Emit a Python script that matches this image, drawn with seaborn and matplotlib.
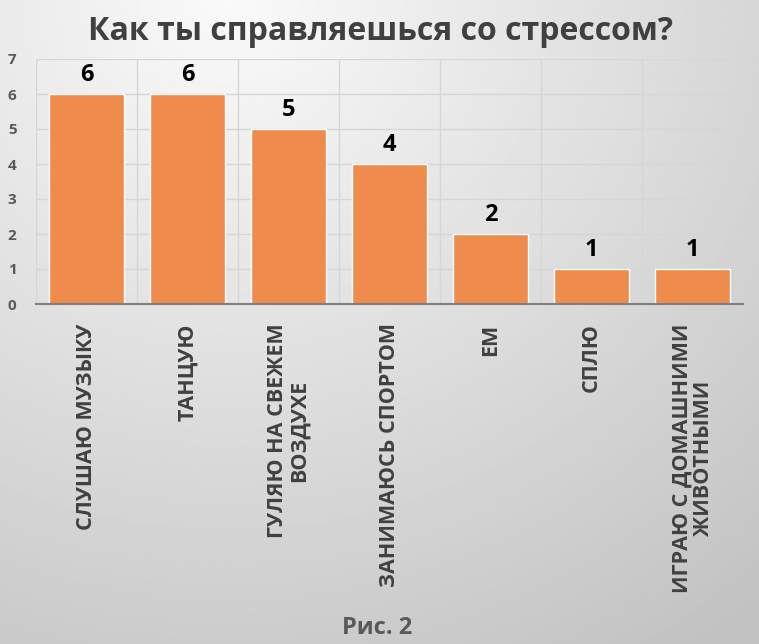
import numpy as np
import pandas as pd
import matplotlib
matplotlib.use('Agg')
import matplotlib.pyplot as plt
import seaborn as sns

# Data
categories = ['СЛУШАЮ МУЗЫКУ', 'ТАНЦУЮ', 'ГУЛЯЮ НА СВЕЖЕМ\nВОЗДУХЕ', 'ЗАНИМАЮСЬ СПОРТОМ',
              'ЕМ', 'СПЛЮ', 'ИГРАЮ С ДОМАШНИМИ\nЖИВОТНЫМИ']
counts = [6, 6, 5, 4, 2, 1, 1]
y_ticks = [0, 1, 2, 3, 4, 5, 6, 7]

title = 'Как ты справляешься со стрессом?'
caption = 'Рис. 2'

sns.set_style('white')
plt.rcParams['font.family'] = ['Open Sans', 'DejaVu Sans']

fig = plt.figure(figsize=(7.59, 6.44), dpi=100)

# background gradient (light top-left -> grey bottom-right)
bg = fig.add_axes([0, 0, 1, 1], zorder=0)
xx, yy = np.meshgrid(np.linspace(0, 1, 300), np.linspace(0, 1, 300))
d = np.sqrt((xx - 0.3) ** 2 + (yy * 0.9) ** 2)
shade = 0.98 - 0.22 * np.clip(d / 1.1, 0, 1)
bg.imshow(shade, cmap='gray', vmin=0, vmax=1, aspect='auto', extent=[0, 1, 0, 1], origin='upper')
bg.axis('off')

ax = fig.add_axes([36 / 759, 1 - 304 / 644, (743 - 36) / 759, (304 - 59) / 644], zorder=1)
ax.set_facecolor('none')

df = pd.DataFrame({'cat': categories, 'count': counts})
sns.barplot(data=df, x='cat', y='count', color='#EE8B4D', saturation=1, width=0.74, ax=ax, zorder=3)

ax.set_ylim(0, 7)
ax.set_xlim(-0.5, len(categories) - 0.5)
ax.set_yticks(y_ticks)
ax.set_yticklabels([str(t) for t in y_ticks], fontsize=11, fontweight='bold', color='#595959')
ax.set_xlabel('')
ax.set_ylabel('')

# grid: horizontal at ticks, vertical at category boundaries
for t in y_ticks[1:]:
    ax.axhline(t, color='#d6d6d6', lw=1, zorder=1)
for b in np.arange(-0.5, len(categories), 1.0):
    ax.axvline(b, color='#d6d6d6', lw=1, zorder=1)

ax.set_xticks(np.arange(len(categories)))
ax.set_xticklabels(categories, rotation=90, fontsize=15.5, fontweight='bold', color='#404040',
                   va='top', ha='center', multialignment='center', linespacing=1.05)
ax.tick_params(axis='x', length=0, pad=14)
ax.tick_params(axis='y', length=0, pad=14)

# boundary tick marks below axis
ax.set_xticks(np.arange(-0.5, len(categories), 1.0), minor=True)
ax.tick_params(axis='x', which='minor', length=7, width=1.2, color='#7f7f7f', direction='out')

for s in ['top', 'right', 'left']:
    ax.spines[s].set_visible(False)
ax.spines['bottom'].set_color('#7f7f7f')
ax.spines['bottom'].set_linewidth(1.5)
ax.spines['bottom'].set_zorder(4)

for i, v in enumerate(counts):
    ax.text(i, v + 0.2, str(v), ha='center', va='bottom', fontsize=17, fontweight='bold', color='black')

fig.text(380 / 759, 1 - 31 / 644, title, ha='center', va='center', fontsize=23,
         fontweight='bold', color='#404040')
fig.text(377 / 759, 1 - 628 / 644, caption, ha='center', va='center', fontsize=17,
         fontweight='bold', color='#595959')

fig.savefig('out.png', dpi=100)
